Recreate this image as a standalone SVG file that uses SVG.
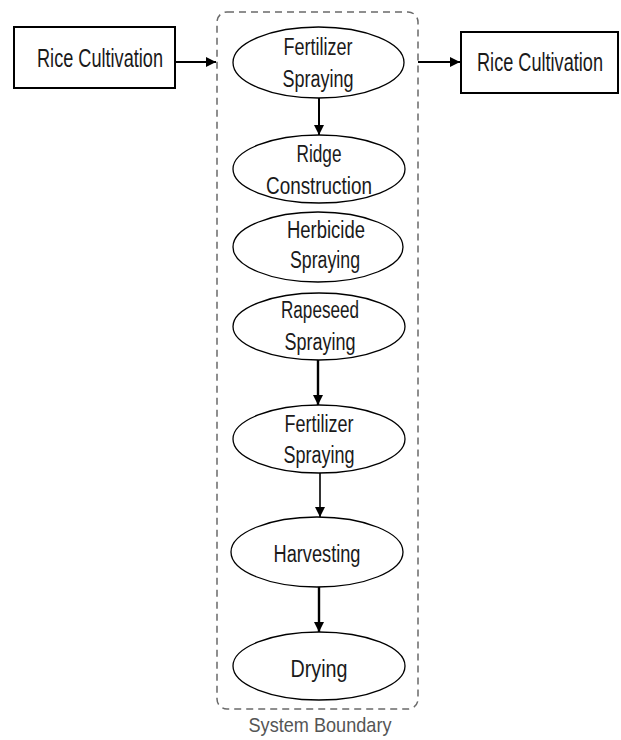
<svg xmlns="http://www.w3.org/2000/svg" width="621" height="740" viewBox="0 0 621 740">
<style>
.box{fill:#fff;stroke:#000;stroke-width:2}
.el{fill:#fff;stroke:#000;stroke-width:1.3}
.t{font-family:"Liberation Sans",Arial,sans-serif;font-size:23.5px;fill:#1a1a1a;text-anchor:middle}
.bt{font-family:"Liberation Sans",Arial,sans-serif;font-size:26.5px;fill:#1a1a1a;text-anchor:middle}
.c{stroke:#000;stroke-width:2;fill:none;marker-end:url(#ah)}
.bd{fill:none;stroke:#6a6a6a;stroke-width:1.5;stroke-dasharray:7 5}
.sb{font-family:"Liberation Sans",Arial,sans-serif;font-size:21px;fill:#555;text-anchor:middle}
</style>
<defs>
<marker id="ah" viewBox="0 0 10 10" refX="10" refY="5" markerWidth="10" markerHeight="10" markerUnits="userSpaceOnUse" orient="auto">
<path d="M0,0 L10,5 L0,10 z" fill="#000"/>
</marker>
</defs>
<rect id="boundary" class="bd" x="217" y="12" width="201" height="697" rx="10"/>
<text class="sb" x="320" y="732" textLength="143" lengthAdjust="spacingAndGlyphs">System Boundary</text>
<g id="connectors">
<line class="c" x1="175" y1="62" x2="216" y2="62"/>
<line class="c" x1="418" y1="62" x2="460" y2="62"/>
<line class="c" x1="319" y1="98" x2="319" y2="135"/>
<line class="c" x1="318" y1="360" x2="318" y2="405" style="stroke-width:2.4"/>
<line class="c" x1="320" y1="473" x2="320" y2="517" style="stroke-width:1.6"/>
<line class="c" x1="319" y1="587" x2="319" y2="632" style="stroke-width:2.4"/>
</g>
<g id="rice-in">
<rect class="box" x="14" y="27" width="161" height="61"/>
<text class="bt" x="100" y="67" textLength="126" lengthAdjust="spacingAndGlyphs">Rice Cultivation</text>
</g>
<g id="rice-out">
<rect class="box" x="461" y="32" width="157" height="61"/>
<text class="bt" x="540" y="71" textLength="126" lengthAdjust="spacingAndGlyphs">Rice Cultivation</text>
</g>
<g id="fert1">
<ellipse class="el" cx="318.5" cy="62.5" rx="85.5" ry="35.5"/>
<text class="t" x="318" y="55" textLength="69" lengthAdjust="spacingAndGlyphs">Fertilizer</text>
<text class="t" x="318" y="87" textLength="71" lengthAdjust="spacingAndGlyphs">Spraying</text>
</g>
<g id="ridge">
<ellipse class="el" cx="319" cy="169" rx="86" ry="34"/>
<text class="t" x="319" y="162" textLength="45" lengthAdjust="spacingAndGlyphs">Ridge</text>
<text class="t" x="319" y="194" textLength="106" lengthAdjust="spacingAndGlyphs">Construction</text>
</g>
<g id="herbicide">
<ellipse class="el" cx="318" cy="247" rx="85" ry="35"/>
<text class="t" x="326" y="238" textLength="78" lengthAdjust="spacingAndGlyphs">Herbicide</text>
<text class="t" x="325" y="268" textLength="70" lengthAdjust="spacingAndGlyphs">Spraying</text>
</g>
<g id="rapeseed">
<ellipse class="el" cx="319" cy="326.5" rx="86" ry="33.5"/>
<text class="t" x="320" y="318" textLength="78" lengthAdjust="spacingAndGlyphs">Rapeseed</text>
<text class="t" x="320" y="350" textLength="71" lengthAdjust="spacingAndGlyphs">Spraying</text>
</g>
<g id="fert2">
<ellipse class="el" cx="319" cy="439" rx="86" ry="34"/>
<text class="t" x="319" y="432" textLength="69" lengthAdjust="spacingAndGlyphs">Fertilizer</text>
<text class="t" x="319" y="463" textLength="71" lengthAdjust="spacingAndGlyphs">Spraying</text>
</g>
<g id="harvesting">
<ellipse class="el" cx="317" cy="552" rx="86" ry="35"/>
<text class="t" x="317" y="562" textLength="87" lengthAdjust="spacingAndGlyphs">Harvesting</text>
</g>
<g id="drying">
<ellipse class="el" cx="319" cy="666" rx="86" ry="34"/>
<text class="t" x="319" y="677" textLength="57" lengthAdjust="spacingAndGlyphs">Drying</text>
</g>
</svg>
